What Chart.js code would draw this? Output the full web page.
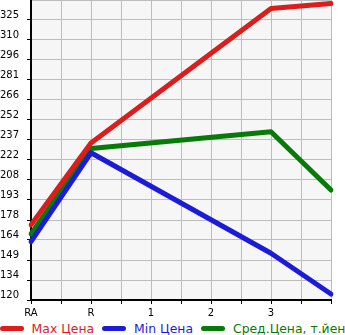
<!DOCTYPE html>
<html><head><meta charset="utf-8">
<script src="https://cdn.jsdelivr.net/npm/chart.js@4/dist/chart.umd.min.js"></script>
<style>
html,body{margin:0;padding:0;background:#fff;width:345px;height:335px;overflow:hidden;}
#wrap{position:relative;width:345px;height:318px;}
#legend{position:absolute;top:320px;left:0;width:345px;height:17px;display:flex;justify-content:center;white-space:nowrap;overflow:visible;font-family:"DejaVu Sans";font-size:12.4px;line-height:17px;}
.it{display:flex;align-items:center;flex:none;margin:0 4px;}
.sw{display:inline-block;width:24px;height:5px;border-radius:3px;margin-right:8px;}
</style></head>
<body>
<div id="wrap"><canvas id="c" width="345" height="318"></canvas></div>
<div id="legend"></div>
<script>
const categories = ['RA','','R','','1','','2','','3','',''];
const yTickLabels = ['120','134','149','164','178','193','208','222','237','252','266','281','296','310','325',''];
const seriesNames = ['Max Цена','Min Цена','Сред.Цена, т.йен'];
const maxPrice = [175, null, 235, null, null, null, null, null, 333.5, null, 337];
const minPrice = [162.7, null, 227.8, null, null, null, null, null, 154.2, null, 124.4];
const avgPrice = [168.3, null, 231, null, null, null, null, null, 243.2, null, 200.5];
const colors = ['rgb(221,28,28)','rgb(28,28,216)','rgb(8,122,8)'];

const yMin = 120;
const yStep = (325 - 120) / 14;
const yMax = yMin + yStep * (yTickLabels.length - 1);

const bgPlugin = {
  id:'bg',
  beforeDraw(chart){
    const a = chart.chartArea, ctx = chart.ctx;
    ctx.save(); ctx.fillStyle = '#f6f6f6';
    ctx.fillRect(a.left, a.top, a.right-a.left, a.bottom-a.top);
    ctx.restore();
  }
};

const ds = [maxPrice, minPrice, avgPrice].map((d,i)=>({
  label: seriesNames[i], data: d, borderColor: colors[i], backgroundColor: colors[i],
  borderWidth: 5, pointRadius: 0, spanGaps: true, tension: 0,
  borderCapStyle: 'round', borderJoinStyle: 'round', fill: false
}));

new Chart(document.getElementById('c'), {
  type: 'line',
  data: { labels: categories, datasets: ds },
  plugins: [bgPlugin],
  options: {
    responsive: false, animation: false,
    layout: { padding: { left: 0, right: 14, top: 0, bottom: 0 } },
    plugins: { legend: { display: false }, tooltip: { enabled: false } },
    scales: {
      x: {
        offset: false,
        grid: { color: '#bdbdbd', lineWidth: 1, tickLength: 4, tickColor: '#000', drawOnChartArea: true },
        border: { color: '#000', width: 2 },
        ticks: { autoSkip: false, maxRotation: 0, minRotation: 0, padding: 3, color: '#000',
                 font: { family: 'DejaVu Sans', size: 10 } },
        afterFit(s){ s.height = 18; }
      },
      y: {
        min: yMin, max: yMax,
        afterBuildTicks(s){ s.ticks = yTickLabels.map((t,i)=>({ value: yMin + i*yStep })); },
        grid: { color: '#bdbdbd', lineWidth: 1, tickLength: 4,
                tickColor: (c)=> c.index === yTickLabels.length-1 ? 'rgba(0,0,0,0)' : '#000' },
        border: { color: '#000', width: 2 },
        ticks: { autoSkip: false, color: '#000', padding: 8, font: { family: 'DejaVu Sans', size: 10, lineHeight: 0.92 },
                 callback(v, i){ return yTickLabels[i] ? [yTickLabels[i], ''] : ''; } },
        afterFit(s){ s.width = 31; s.paddingTop = 0; s.paddingBottom = 0; }
      }
    }
  }
});

const lg = document.getElementById('legend');
seriesNames.forEach((n,i)=>{
  const it = document.createElement('span'); it.className='it';
  const sw = document.createElement('span'); sw.className='sw'; sw.style.background = colors[i];
  const tx = document.createElement('span'); tx.textContent = n; tx.style.color = colors[i];
  it.appendChild(sw); it.appendChild(tx); lg.appendChild(it);
});
</script>
</body></html>
